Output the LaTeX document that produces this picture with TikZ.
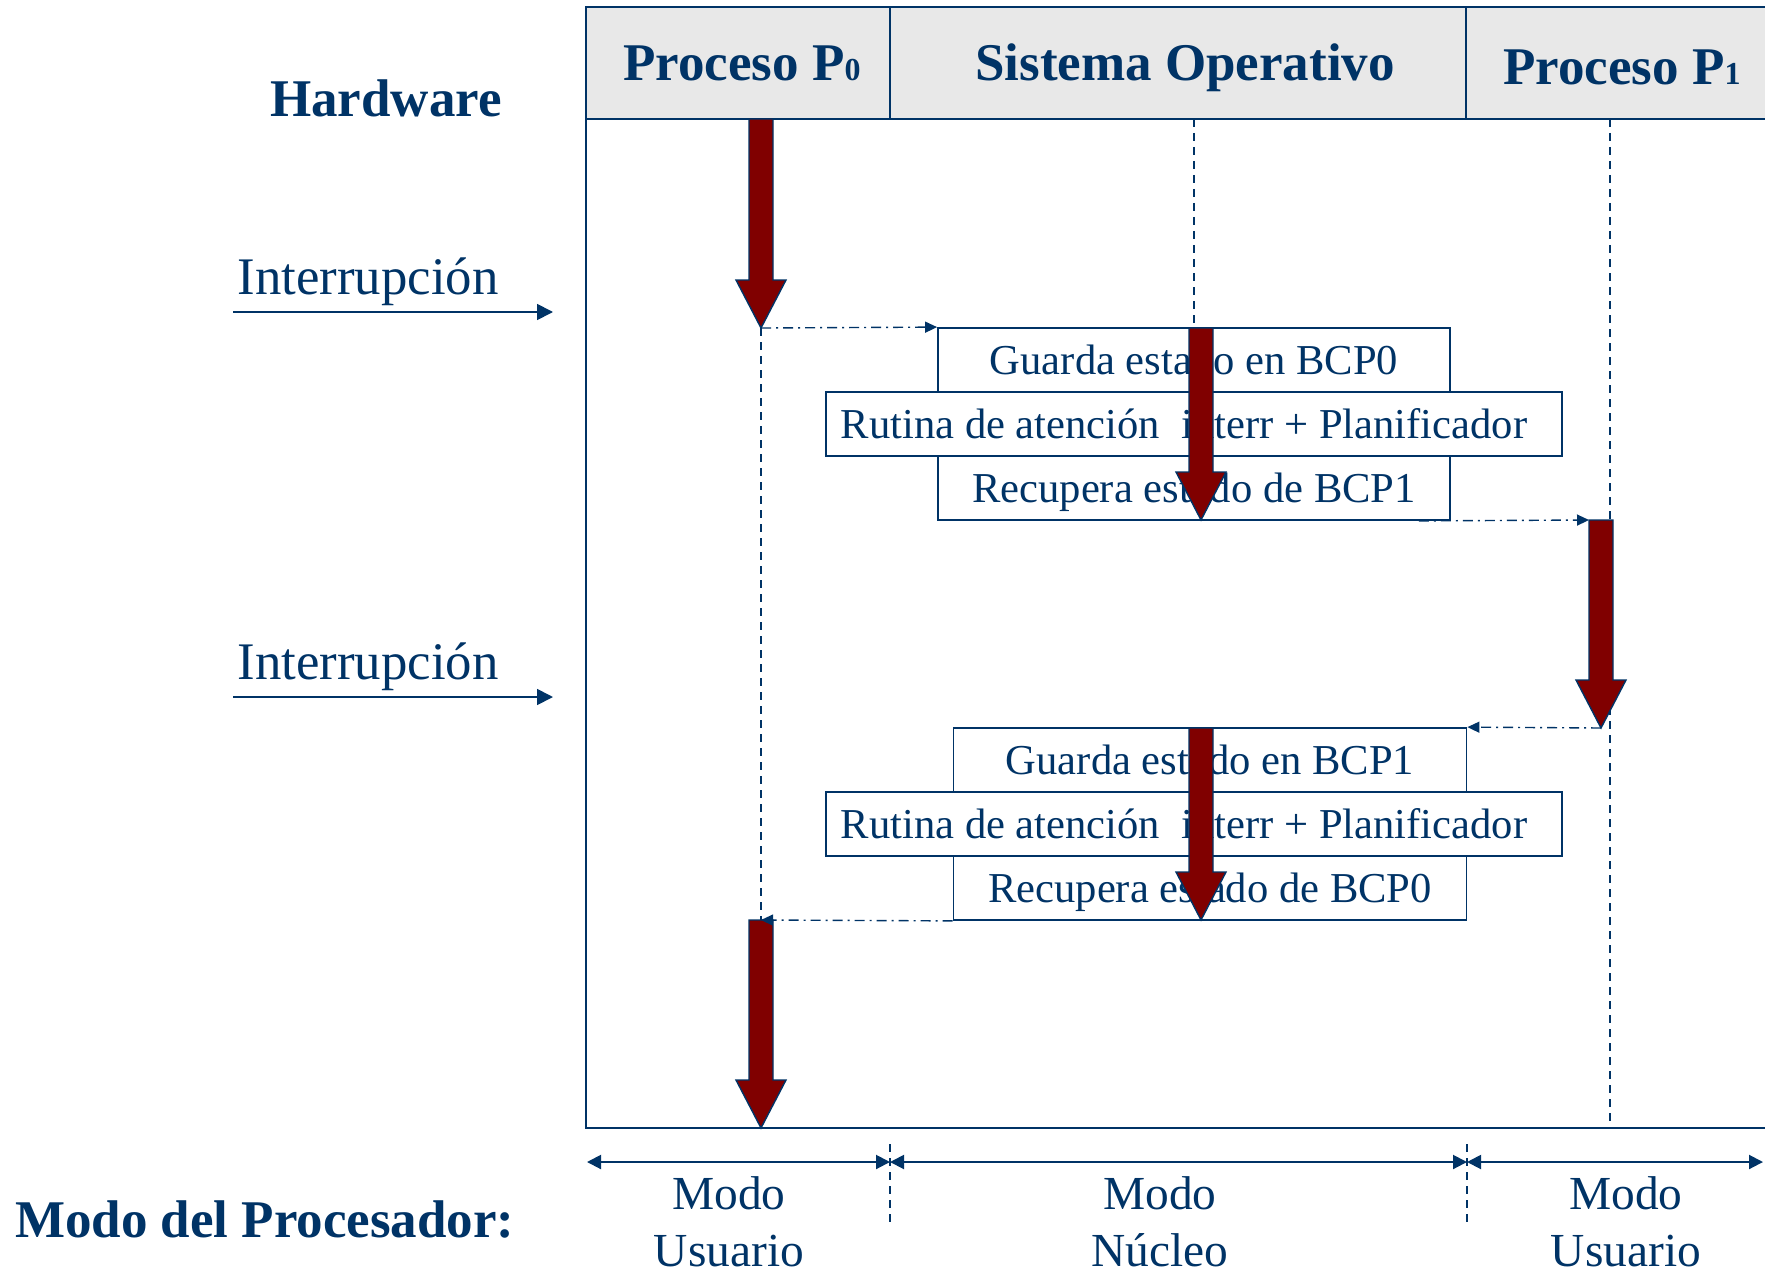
\documentclass[tikz,border=0pt]{standalone}
\usepackage{fontspec}
\setmainfont{Liberation Serif}
\usetikzlibrary{arrows.meta}
\definecolor{azul}{RGB}{0,51,102}
\definecolor{granate}{RGB}{128,0,0}
\definecolor{gris}{RGB}{232,232,232}
\tikzset{
	caja/.style={draw=azul, line width=0.9pt, fill=white, minimum height=32pt, inner sep=0pt, text height=19pt, text depth=4.5pt, text=azul, font=\fontsize{21.3}{25}\selectfont},
	cabecera/.style={draw=azul, line width=0.9pt, fill=gris},
	marco/.style={draw=azul, line width=1.1pt},
	vida/.style={draw=azul, line width=0.7pt, dash pattern=on 4pt off 3pt},
	salto/.style={draw=azul, line width=0.7pt, dash pattern=on 5pt off 2.5pt on 1pt off 2.5pt, -{Triangle[length=6pt,width=5.5pt]}},
	irq/.style={draw=azul, line width=0.9pt, -{Triangle[length=8pt,width=8pt]}},
	modo/.style={draw=azul, line width=1pt, {Triangle[length=7pt,width=7pt]}-{Triangle[length=7pt,width=7pt]}},
	flecha/.style={draw=azul, line width=0.7pt, fill=granate},
	titulo/.style={text=azul, font=\fontsize{26.5}{30}\selectfont\bfseries, anchor=base},
	etiqueta/.style={text=azul, font=\fontsize{26.4}{30}\selectfont, anchor=base},
	modotxt/.style={text=azul, font=\fontsize{23.7}{28.3}\selectfont, align=center, anchor=base},
}
\newcommand{\bloque}[2]{%
	\draw[flecha] ([xshift=-6pt]#1) -- ([xshift=-6pt,yshift=24pt]#2) -- ([xshift=-12.5pt,yshift=24pt]#2) -- (#2) -- ([xshift=12.5pt,yshift=24pt]#2) -- ([xshift=6pt,yshift=24pt]#2) -- ([xshift=6pt]#1) -- cycle;}

\begin{document}
\begin{tikzpicture}[x=0.5pt, y=-0.5pt]
		\useasboundingbox (0,0) rectangle (1765,1273);

		\draw[marco] (586,7) rectangle (1780,1128);
		\draw[cabecera] (586,7) rectangle (890,119);
		\draw[cabecera] (890,7) rectangle (1466,119);
		\draw[cabecera] (1466,7) rectangle (1780,119);
		\node[titulo] (tp0) at (742,81) {Proceso P{\fontsize{16}{18}\selectfont 0}};
		\node[titulo] (tso) at (1185,81) {Sistema Operativo};
		\node[titulo] (tp1) at (1622,85) {Proceso P{\fontsize{16}{18}\selectfont 1}};
		\node[titulo] (hw) at (386,117) {Hardware};

		\coordinate (p0a) at (761,119);
		\coordinate (p0b) at (761,328);
		\coordinate (soa) at (1201,328);
		\coordinate (sob) at (1201,520);
		\coordinate (p1a) at (1601,520);
		\coordinate (p1b) at (1601,728);
		\coordinate (soc) at (1201,728);
		\coordinate (sod) at (1201,920);
		\coordinate (p0c) at (761,920);
		\coordinate (p0d) at (761,1128);

		\draw[vida] (1194,119) -- (1194,328);
		\draw[vida] (1610,119) -- (1610,1128);
		\draw[vida] (p0b) -- (p0c);

		\node[caja, minimum width=256pt] (g1) at (1194,360) {Guarda estado en BCP0};
		\node[caja, minimum width=368pt] (a1) at (1194,424) {Rutina de atención\ \ interr + Planificador\hspace*{10pt}};
		\node[caja, minimum width=256pt] (r1) at (1194,488) {Recupera estado de BCP1};
		\node[caja, minimum width=256.5pt] (g2) at (1210,760) {Guarda estado en BCP1};
		\node[caja, minimum width=368pt] (a2) at (1194,824) {Rutina de atención\ \ interr + Planificador\hspace*{10pt}};
		\node[caja, minimum width=256.5pt] (r2) at (1210,888) {Recupera estado de BCP0};

		\bloque{p0a}{p0b}
		\bloque{soa}{sob}
		\bloque{p1a}{p1b}
		\bloque{soc}{sod}
		\bloque{p0c}{p0d}

		\draw[salto] (p0b) -- (g1.north west);
		\draw[salto] ([xshift=-16pt]r1.south east) -- ([xshift=-6pt]p1a);
		\draw[salto] (p1b) -- (g2.north east);
		\draw[salto] (r2.south west) -- (p0c);

		\coordinate (i1a) at (233,312);
		\coordinate (i1b) at (553,312);
		\coordinate (i2a) at (233,697);
		\coordinate (i2b) at (553,697);
		\node[etiqueta] (i1) at (368,294) {Interrupción};
		\node[etiqueta] (i2) at (368,679) {Interrupción};
		\draw[irq] (i1a) -- (i1b);
		\draw[irq] (i2a) -- (i2b);

		\coordinate (m0) at (587,1162);
		\coordinate (m1) at (890,1162);
		\coordinate (m2) at (1467,1162);
		\coordinate (m3) at (1763,1162);
		\draw[modo] (m0) -- (m1);
		\draw[modo] (m1) -- (m2);
		\draw[modo] (m2) -- (m3);
		\draw[vida] (890,1144) -- (890,1222);
		\draw[vida] (1467,1144) -- (1467,1222);
		\node[modotxt] (mu0) at (729,1266) {Modo\\Usuario};
		\node[modotxt] (mn) at (1160,1266) {Modo\\Núcleo};
		\node[modotxt] (mu1) at (1626,1266) {Modo\\Usuario};
		\node[titulo, anchor=base west] (mp) at (8,1237) {Modo del Procesador:};
	\end{tikzpicture}
\end{document}
